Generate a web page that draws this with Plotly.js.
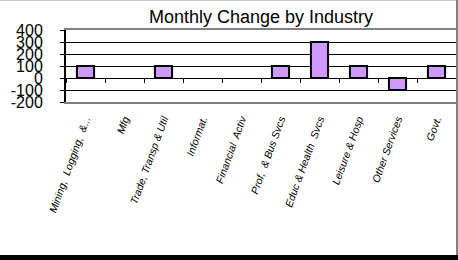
<!DOCTYPE html>
<html>
<head>
<meta charset="utf-8">
<script src="https://cdn.plot.ly/plotly-3.0.1.min.js"></script>
<style>
html,body{margin:0;padding:0;background:#fff;}
#wrap{position:relative;width:458px;height:260px;overflow:hidden;}
#chart{width:458px;height:260px;}
#bt{position:absolute;left:0;top:0;width:458px;height:1px;background:#c8c8c8;}
#br{position:absolute;right:0;top:0;width:2px;height:260px;background:#808080;}
#bb{position:absolute;left:0;bottom:0;width:458px;height:5px;background:#000;}
</style>
</head>
<body>
<div id="wrap"><div id="chart"></div><div id="bt"></div><div id="br"></div><div id="bb"></div></div>
<script>
const categories = ["Mining,  Logging,  &...", "Mfg", "Trade, Transp & Util", "Informat.", "Financial  Activ", "Prof,  & Bus Svcs", "Educ & Health  Svcs", "Leisure & Hosp", "Other Services", "Govt."];
const changes = [100, 0, 100, 0, 0, 100, 300, 100, -100, 100];
const yTicks = [-200, -100, 0, 100, 200, 300, 400];
const chartTitle = "Monthly Change by Industry";

const font = "Arial, 'Liberation Sans', sans-serif";

const data = [
  {
    type: "bar",
    x: categories,
    y: changes,
    width: 0.44,
    marker: {color: "#CC99FF", line: {color: "#000", width: changes.map(v => v === 0 ? 0 : 2)}},
    hoverinfo: "x+y"
  },
  {
    type: "bar",
    x: categories,
    y: changes,
    xaxis: "x2",
    width: 0.44,
    marker: {color: "rgba(0,0,0,0)", line: {width: 0}},
    hoverinfo: "skip",
    showlegend: false
  }
];

const layout = {
  width: 458,
  height: 260,
  margin: {l: 66, r: 2, t: 30, b: 158},
  paper_bgcolor: "#fff",
  plot_bgcolor: "#fff",
  showlegend: false,
  title: {
    text: chartTitle,
    font: {family: font, size: 18, color: "#000"},
    xref: "paper", x: 0.5, xanchor: "center",
    yref: "container", y: 0.935, yanchor: "middle"
  },
  xaxis: {
    type: "category",
    range: [-0.5, 9.5],
    showgrid: false,
    zeroline: false,
    showline: true,
    linecolor: "#808080",
    linewidth: 2,
    mirror: true,
    ticks: "",
    tickangle: -70,
    ticklabelstandoff: 5,
    tickfont: {family: font, size: 10.5, color: "#000", style: "italic"},
    fixedrange: true
  },
  xaxis2: {
    type: "category",
    overlaying: "x",
    anchor: "free",
    position: 1/3,
    range: [-0.5, 9.5],
    tickson: "boundaries",
    ticks: "outside",
    ticklen: 4,
    tickwidth: 1,
    tickcolor: "#000",
    showticklabels: false,
    showgrid: false,
    zeroline: false,
    showline: true,
    linecolor: "#000",
    linewidth: 1,
    fixedrange: true
  },
  yaxis: {
    range: [-200, 400],
    tickvals: yTicks,
    ticktext: yTicks.map(String),
    showgrid: true,
    gridcolor: "#000",
    gridwidth: 1,
    zeroline: false,
    showline: true,
    linecolor: "#000",
    linewidth: 2,
    ticks: "outside",
    ticklen: 4,
    tickcolor: "#000",
    ticklabelstandoff: 14,
    tickfont: {family: font, size: 16, color: "#000"},
    fixedrange: true
  }
};

Plotly.newPlot("chart", data, layout, {displayModeBar: false, staticPlot: true});
</script>
</body>
</html>
